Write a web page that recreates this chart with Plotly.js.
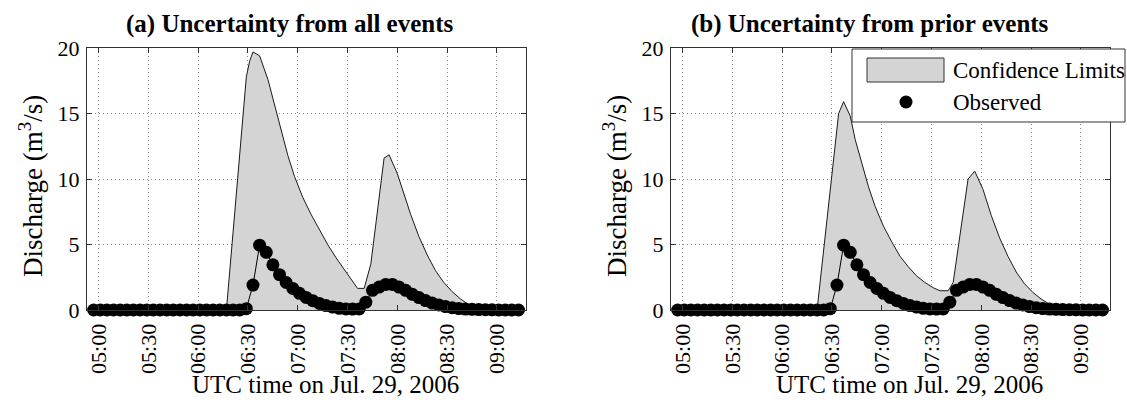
<!DOCTYPE html>
<html>
<head>
<meta charset="utf-8">
<script src="https://cdn.plot.ly/plotly-3.0.1.min.js"></script>
<style>html,body{margin:0;padding:0;background:#fff;}#chart{width:1127px;height:400px;}</style>
</head>
<body>
<div id="chart"></div>
<script>
// ---------- DATA ----------
const DAY = "2006-07-29 ";
// Observed discharge (m3/s), same in both panels
const obsTimes = ["04:57","05:01","05:05","05:09","05:13","05:17","05:21","05:25","05:29","05:33",
  "05:37","05:41","05:45","05:49","05:53","05:57","06:01","06:05","06:09","06:13",
  "06:17","06:21","06:25","06:29","06:33","06:37","06:41","06:45","06:49","06:53",
  "06:57","07:01","07:05","07:09","07:13","07:17","07:21","07:25","07:29","07:33",
  "07:37","07:41","07:45","07:49","07:53","07:57","08:01","08:05","08:09","08:13",
  "08:17","08:21","08:25","08:29","08:33","08:37","08:41","08:45","08:49","08:53",
  "08:57","09:01","09:05","09:09","09:13"];
const obsValues = [0,0,0,0,0,0,0,0,0,0,
  0,0,0,0,0,0,0,0,0,0,
  0,0,0,0.1,1.9,4.95,4.4,3.45,2.7,2.1,
  1.65,1.27,0.96,0.71,0.5,0.34,0.22,0.13,0.08,0.07,
  0.08,0.6,1.5,1.75,1.95,1.95,1.75,1.5,1.2,0.95,
  0.72,0.53,0.38,0.26,0.17,0.11,0.07,0.05,0.03,0.02,
  0.01,0,0,0,0];

// (a) Upper confidence limit, uncertainty from all events (lower limit = 0)
const upperATimes = ["04:57","06:17","06:29","06:31","06:33","06:37","06:42","06:46","06:50","06:54",
  "06:58","07:03","07:08","07:13","07:18","07:23","07:28","07:32","07:36","07:40",
  "07:44","07:52","07:55","08:00","08:04","08:08","08:13","08:18","08:23","08:28",
  "08:33","08:38","08:43","08:48","08:55","09:13"];
const upperAValues = [0,0,17.8,19.0,19.7,19.4,17.6,15.6,13.6,11.8,
  10.2,8.6,7.3,6.1,5.0,4.0,3.1,2.3,1.65,1.65,
  3.5,11.6,11.85,10.4,8.8,7.3,5.6,4.2,3.0,2.1,
  1.4,0.85,0.4,0.15,0,0];

// (b) Upper confidence limit, uncertainty from prior events
const upperBTimes = ["04:57","06:21","06:34","06:37","06:41","06:44","06:48","06:52","06:56","07:01",
  "07:06","07:11","07:16","07:21","07:26","07:31","07:35","07:40","07:43","07:52",
  "07:56","08:01","08:06","08:11","08:16","08:21","08:26","08:31","08:36","08:41",
  "08:46","08:52","09:13"];
const upperBValues = [0,0,15.0,15.9,14.8,13.0,11.2,9.4,7.9,6.4,
  5.2,4.1,3.3,2.6,2.1,1.7,1.47,1.47,2.1,10.0,
  10.6,9.2,7.2,5.5,4.1,2.9,2.0,1.35,0.84,0.45,
  0.2,0,0];

const xTickTimes = ["05:00","05:30","06:00","06:30","07:00","07:30","08:00","08:30","09:00"];
const xTickLabels = ["05:00","05:30","06:00","06:30","07:00","07:30","08:00","08:30","09:00"];
const yTicks = [0,5,10,15,20];
const titles = ["(a) Uncertainty from all events","(b) Uncertainty from prior events"];
const xTitle = "UTC time on Jul. 29, 2006";
const yTitle = "Discharge (m<sup>3</sup>/s)";
const legendLabels = ["Confidence Limits","Observed"];

// ---------- BUILD ----------
(function () {
const W = 1127, H = 400;
const px = v => v / W;
const py = v => 1 - v / H;
const toDate = a => a.map(t => DAY + t + ":00");

const FONT = "Liberation Serif, Times New Roman, serif";
const FILL = "#d4d4d4";
const LINE = "#1a1a1a";

function envTrace(times, vals, xa, ya) {
  return {x: toDate(times), y: vals, xaxis: xa, yaxis: ya, type: "scatter", mode: "lines",
    fill: "tozeroy", fillcolor: FILL, line: {color: LINE, width: 1}, hoverinfo: "skip"};
}
function obsTrace(xa, ya) {
  return {x: toDate(obsTimes), y: obsValues, xaxis: xa, yaxis: ya, type: "scatter",
    mode: "lines+markers", cliponaxis: false,
    line: {color: "#000", width: 1}, marker: {color: "#000", size: 13}};
}

const data = [
  envTrace(upperATimes, upperAValues, "x", "y"), obsTrace("x", "y"),
  envTrace(upperBTimes, upperBValues, "x2", "y2"), obsTrace("x2", "y2")
];

const panels = [{l: 87, r: 526}, {l: 671, r: 1110}];
const plotTop = 48, plotBottom = 310;

function xAxis(p, anchor) {
  return {domain: [px(p.l), px(p.r)], anchor: anchor, type: "date",
    range: [DAY + "04:53:00", DAY + "09:17:30"],
    tickvals: toDate(xTickTimes), ticktext: xTickLabels, tickangle: -90,
    ticks: "inside", ticklen: 5, tickcolor: "#333", tickwidth: 1,
    showline: true, linecolor: "#333", linewidth: 1, mirror: "ticks",
    showgrid: true, gridcolor: "#8a8a8a", gridwidth: 1, griddash: "1px,3px",
    zeroline: false, tickfont: {family: FONT, size: 22, color: "#000"},
    ticklabelstandoff: 4, fixedrange: true};
}
function yAxis(anchor) {
  return {domain: [py(plotBottom), py(plotTop)], anchor: anchor, range: [0, 20], tickvals: yTicks,
    ticks: "inside", ticklen: 5, tickcolor: "#333", tickwidth: 1,
    showline: true, linecolor: "#333", linewidth: 1, mirror: "ticks",
    showgrid: true, gridcolor: "#8a8a8a", gridwidth: 1, griddash: "1px,3px",
    zeroline: false, tickfont: {family: FONT, size: 22, color: "#000"},
    ticklabelstandoff: 2, fixedrange: true};
}

const annotations = [];
const titleLeft = [124, 689];
[0, 1].forEach(i => {
  const off = i * 584;
  annotations.push({text: "<b>" + titles[i] + "</b>", xref: "paper", yref: "paper",
    x: px(titleLeft[i]), y: py(24), xanchor: "left", yanchor: "middle", showarrow: false,
    font: {family: FONT, size: 25, color: "#000"}});
  annotations.push({text: xTitle, xref: "paper", yref: "paper",
    x: px(325 + off), y: py(384), xanchor: "center", yanchor: "middle", showarrow: false,
    font: {family: FONT, size: 25, color: "#000"}});
  annotations.push({text: yTitle, xref: "paper", yref: "paper", textangle: -90,
    x: px(31 + off), y: py(186), xanchor: "center", yanchor: "middle", showarrow: false,
    font: {family: FONT, size: 27, color: "#000"}});
});
// legend (right panel)
annotations.push({text: legendLabels[0], xref: "paper", yref: "paper", x: px(951), y: py(70),
  xanchor: "left", yanchor: "middle", showarrow: false, font: {family: FONT, size: 23, color: "#000"}});
annotations.push({text: legendLabels[1], xref: "paper", yref: "paper", x: px(951), y: py(102),
  xanchor: "left", yanchor: "middle", showarrow: false, font: {family: FONT, size: 23, color: "#000"}});

const shapes = [
  {type: "rect", xref: "paper", yref: "paper", x0: px(852), x1: px(1125), y0: py(122), y1: py(49),
    fillcolor: "#fff", line: {color: "#333", width: 1}, layer: "above"},
  {type: "rect", xref: "paper", yref: "paper", x0: px(867), x1: px(944), y0: py(82), y1: py(58),
    fillcolor: FILL, line: {color: "#333", width: 1}, layer: "above"},
  {type: "circle", xref: "paper", yref: "paper", x0: px(899.5), x1: px(912.5), y0: py(108.5), y1: py(95.5),
    fillcolor: "#000", line: {color: "#000", width: 0}, layer: "above"}
];

const layout = {
  width: W, height: H, margin: {l: 0, r: 0, t: 0, b: 0},
  paper_bgcolor: "#fff", plot_bgcolor: "#fff", showlegend: false,
  xaxis: xAxis(panels[0], "y"), yaxis: yAxis("x"),
  xaxis2: xAxis(panels[1], "y2"), yaxis2: yAxis("x2"),
  annotations: annotations, shapes: shapes
};

Plotly.newPlot("chart", data, layout, {staticPlot: true, displayModeBar: false});
})();
</script>
</body>
</html>
